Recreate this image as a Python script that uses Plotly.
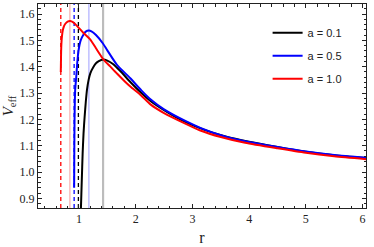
import plotly.graph_objects as go

# ---- data ----
r_a01 = [1.000, 1.020, 1.035, 1.050, 1.065, 1.081, 1.100, 1.120, 1.141, 1.170, 1.200, 1.257, 1.300,
         1.350, 1.423, 1.500, 1.600, 1.670, 1.750, 1.905, 2.100, 2.260, 2.500, 2.800, 3.200, 3.600,
         4.000, 4.500, 5.000, 5.500, 6.060]
V_a01 = [0.55, 0.76, 0.864, 0.97, 1.07, 1.148, 1.210, 1.265, 1.312, 1.350, 1.375, 1.400, 1.413,
         1.421, 1.427, 1.423, 1.410, 1.396, 1.379, 1.342, 1.300, 1.270, 1.235, 1.198, 1.161, 1.134,
         1.115, 1.095, 1.077, 1.064, 1.053]

r_a05 = [0.915, 0.918, 0.922, 0.928, 0.935, 0.952, 0.970, 0.993, 1.030, 1.081, 1.120, 1.175, 1.220,
         1.300, 1.423, 1.500, 1.670, 1.905, 2.100, 2.260, 2.500, 2.875, 3.140, 3.500, 3.930, 4.500,
         5.000, 5.500, 6.060]
V_a05 = [0.940, 1.080, 1.190, 1.275, 1.318, 1.360, 1.415, 1.462, 1.500, 1.522, 1.533, 1.537, 1.534,
         1.520, 1.488, 1.462, 1.407, 1.356, 1.310, 1.276, 1.238, 1.194, 1.168, 1.140, 1.117, 1.095,
         1.078, 1.065, 1.054]

r_a10 = [0.680, 0.684, 0.690, 0.700, 0.715, 0.735, 0.760, 0.800, 0.845, 0.900, 0.965, 1.080, 1.200,
         1.300, 1.430, 1.550, 1.670, 1.800, 1.905, 2.100, 2.260, 2.500, 2.875, 3.140, 3.500, 3.930,
         4.500, 5.000, 5.500, 6.060]
V_a10 = [1.380, 1.440, 1.485, 1.515, 1.538, 1.553, 1.563, 1.571, 1.573, 1.568, 1.555, 1.528, 1.503,
         1.470, 1.428, 1.401, 1.374, 1.346, 1.325, 1.290, 1.257, 1.224, 1.184, 1.158, 1.133, 1.111,
         1.090, 1.073, 1.060, 1.049]

labels = ["a = 0.1", "a = 0.5", "a = 1.0"]
colors = ["#000000", "#0000ff", "#ff0000"]
horizon_r = [0.99, 0.915, 0.68]        # dashed vertical lines
peak_r = [1.425, 1.175, 0.84]          # thin solid vertical lines
peak_colors = ["rgba(160,160,160,0.7)", "rgba(110,110,255,0.55)", "rgba(240,120,120,0.6)"]
peak_widths = [2.2, 1.2, 1.2]

x_ticks = [1, 2, 3, 4, 5, 6]
y_ticks = [0.9, 1.0, 1.1, 1.2, 1.3, 1.4, 1.5, 1.6]

fig = go.Figure()

# vertical reference lines (below curves)
for xr, c in zip(horizon_r, colors):
    fig.add_shape(type="line", xref="x", yref="paper", x0=xr, x1=xr, y0=0, y1=1,
                  line=dict(color=c, width=1.3, dash="4px,3px"), layer="below")
for xr, c, w in zip(peak_r, peak_colors, peak_widths):
    fig.add_shape(type="line", xref="x", yref="paper", x0=xr, x1=xr, y0=0, y1=1,
                  line=dict(color=c, width=w), layer="below")

for i, (rr, vv) in enumerate([(r_a01, V_a01), (r_a05, V_a05), (r_a10, V_a10)]):
    fig.add_trace(go.Scatter(x=rr, y=vv, mode="lines", name=labels[i],
                             line=dict(color=colors[i], width=2, shape="spline", smoothing=0.6),
                             legendgroup=str(i)))

serif = "Liberation Serif, Times New Roman, serif"
axis_common = dict(showgrid=False, zeroline=False, showline=True, linecolor="#222",
                   linewidth=1, mirror="allticks", ticks="inside", tickcolor="#222",
                   ticklen=4, tickwidth=1, automargin=False,
                   tickfont=dict(family=serif, size=12, color="#222"))

fig.update_xaxes(range=[0.278, 6.06], tickvals=x_ticks, ticktext=[str(v) for v in x_ticks],
                 minor=dict(ticks="inside", dtick=0.2, tick0=0, ticklen=2.5, tickcolor="#222"),
                 title=dict(text="r", font=dict(family=serif, size=16, color="#222"), standoff=6),
                 **axis_common)
fig.update_yaxes(range=[0.8636, 1.638], tickvals=y_ticks, ticktext=[f"{v:.1f}" for v in y_ticks],
                 minor=dict(ticks="inside", dtick=0.02, tick0=0, ticklen=2.5, tickcolor="#222"),
                 title=dict(text="<i>V</i><sub>eff</sub>", font=dict(family=serif, size=15, color="#222"),
                            standoff=4),
                 **axis_common)

fig.update_layout(
    width=374, height=247,
    margin=dict(l=38, r=8, t=4, b=39),
    plot_bgcolor="white", paper_bgcolor="white",
    showlegend=True,
    legend=dict(x=0.7, y=0.93, xanchor="left", yanchor="top", bgcolor="rgba(0,0,0,0)",
                font=dict(family="Liberation Sans, Arial, sans-serif", size=11, color="#222"),
                itemwidth=30, tracegroupgap=4),
)

fig.write_html("out.html", config={"displayModeBar": False},
               post_script="document.body.style.margin='0';document.body.style.overflow='hidden';")
